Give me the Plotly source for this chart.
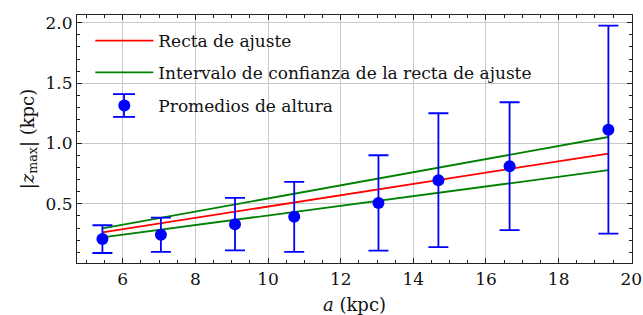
import plotly.graph_objects as go

# Data
a_kpc = [5.44, 7.05, 9.09, 10.72, 13.04, 14.69, 16.65, 19.37]
z_mean = [0.208, 0.244, 0.332, 0.393, 0.508, 0.696, 0.812, 1.115]
z_err = [0.115, 0.142, 0.217, 0.290, 0.395, 0.555, 0.530, 0.862]

fit_line = [0.264, 0.340, 0.435, 0.512, 0.620, 0.698, 0.790, 0.917]
ci_upper = [0.297, 0.384, 0.495, 0.584, 0.710, 0.799, 0.906, 1.054]
ci_lower = [0.222, 0.286, 0.368, 0.433, 0.526, 0.592, 0.670, 0.779]

FONT = "DejaVu Serif"
TXT = "#111111"

fig = go.Figure()
fig.add_trace(go.Scatter(x=a_kpc, y=fit_line, mode="lines",
                         line=dict(color="#ff0000", width=1.8),
                         name="Recta de ajuste", legend="legend"))
fig.add_trace(go.Scatter(x=a_kpc, y=ci_upper, mode="lines",
                         line=dict(color="#008000", width=1.8),
                         name="Intervalo de confianza de la recta de ajuste",
                         legendgroup="ci", legend="legend2"))
fig.add_trace(go.Scatter(x=a_kpc, y=ci_lower, mode="lines",
                         line=dict(color="#008000", width=1.8),
                         showlegend=False, legendgroup="ci", legend="legend2"))
fig.add_trace(go.Scatter(x=a_kpc, y=z_mean, mode="markers",
                         marker=dict(color="#0000ff", size=12),
                         error_y=dict(type="data", array=z_err, color="#0000ff",
                                      thickness=1.8, width=10),
                         name="Promedios de altura", legend="legend3"))

axis_common = dict(
    showline=True, linecolor="#222222", linewidth=1.2, mirror="allticks",
    ticks="inside", ticklen=5, tickwidth=1, tickcolor="#222222",
    showgrid=True, gridcolor="#c8c8c8", gridwidth=1,
    zeroline=False, automargin=False,
    tickfont=dict(family=FONT, size=17, color=TXT),
)

fig.update_xaxes(
    **axis_common,
    range=[4.74, 20.02],
    tickvals=[6, 8, 10, 12, 14, 16, 18, 20],
    minor=dict(ticks="inside", dtick=0.5, ticklen=2.5, tickcolor="#222222", showgrid=False),
    title=dict(text="<i>a</i> (kpc)", font=dict(family=FONT, size=18, color=TXT),
               standoff=13),
)
fig.update_yaxes(
    **axis_common,
    range=[0.01, 2.065],
    tickvals=[0.5, 1.0, 1.5, 2.0],
    ticktext=["0.5", "1.0", "1.5", "2.0"],
    minor=dict(ticks="inside", dtick=0.1, ticklen=2.5, tickcolor="#222222", showgrid=False),
    title=dict(text="|<i>z</i><sub>max</sub>| (kpc)",
               font=dict(family=FONT, size=18, color=TXT), standoff=6),
)

leg_common = dict(xanchor="left", yanchor="middle", bgcolor="rgba(0,0,0,0)",
                  borderwidth=0, font=dict(family=FONT, size=17, color=TXT),
                  itemwidth=58)

fig.update_layout(
    width=643, height=315,
    margin=dict(l=77, r=11, t=15, b=52),
    paper_bgcolor="white", plot_bgcolor="white",
    font=dict(family=FONT, size=17, color=TXT),
    showlegend=True,
    legend=dict(x=0.024, y=0.895, **leg_common),
    legend2=dict(x=0.024, y=0.767, **leg_common),
    legend3=dict(x=0.024, y=0.633, **leg_common),
)

# error-bar glyph for the legend entry of the averages (legend decoration)
fig.add_shape(type="line", xref="paper", yref="paper",
              x0=0.0847, x1=0.0847, y0=0.589, y1=0.681,
              line=dict(color="#0000ff", width=1.8))
fig.add_shape(type="line", xref="paper", yref="paper",
              x0=0.0649, x1=0.1045, y0=0.681, y1=0.681,
              line=dict(color="#0000ff", width=1.8))
fig.add_shape(type="line", xref="paper", yref="paper",
              x0=0.0649, x1=0.1045, y0=0.589, y1=0.589,
              line=dict(color="#0000ff", width=1.8))

fig.write_html("out.html", config={"displayModeBar": False},
               post_script="document.body.style.margin='0';document.body.style.padding='0';")
